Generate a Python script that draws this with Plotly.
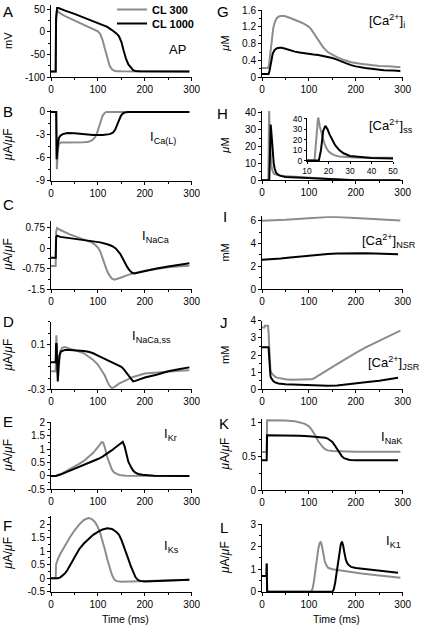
import plotly.graph_objects as go

# ---------------- DATA ----------------
# Panel A: action potential (mV)
ap_t_300 = [0, 10, 10.8, 12, 14, 20, 30, 40, 50, 60, 70, 80, 90, 100, 105, 110, 115, 120, 125, 130, 135, 140, 150, 200, 295]
ap_v_300 = [-88, -88, 20, 44, 46, 41, 35, 30, 26, 21, 16, 11, 6, 1, -5, -18, -38, -60, -75, -83, -86, -87, -87.5, -88, -88]
ap_t_1000 = [0, 10, 10.8, 13, 16, 20, 30, 50, 80, 104, 120, 130, 136, 140, 145, 150, 155, 160, 165, 170, 175, 180, 190, 295]
ap_v_1000 = [-88, -88, 30, 53, 53, 51, 47, 40, 28, 19, 11, 4, 0, -4, -10, -22, -42, -60, -72, -80, -85, -86.5, -87.5, -88]

# Panel B: I_Ca(L)
ica_t_300 = [0, 11.5, 12.5, 13.5, 15, 17, 20, 30, 50, 70, 80, 88, 94, 98, 102, 106, 110, 114, 118, 125, 295]
ica_v_300 = [0, 0, -7.5, -6, -4.8, -4.2, -4.0, -4.0, -4.0, -3.95, -3.9, -3.7, -3.3, -2.8, -2.0, -1.2, -0.5, -0.15, 0, 0, 0]
ica_t_1000 = [0, 11, 12, 13, 15, 17, 20, 25, 35, 50, 70, 90, 110, 125, 132, 137, 141, 145, 149, 153, 158, 165, 295]
ica_v_1000 = [0, 0, -6.2, -5.0, -4.0, -3.4, -3.1, -2.9, -2.75, -2.8, -2.9, -3.0, -3.0, -2.9, -2.7, -2.3, -1.7, -1.0, -0.5, -0.2, -0.05, 0, 0]

# Panel C: I_NaCa
inaca_t_300 = [0, 10, 11, 13, 20, 30, 40, 50, 60, 70, 80, 88, 94, 100, 105, 110, 115, 120, 125, 130, 135, 140, 150, 160, 175, 200, 225, 250, 275, 295]
inaca_v_300 = [-0.65, -0.65, 0.6, 0.73, 0.66, 0.57, 0.5, 0.44, 0.38, 0.33, 0.27, 0.2, 0.12, 0.02, -0.12, -0.35, -0.6, -0.85, -1.0, -1.11, -1.15, -1.13, -1.07, -1.0, -0.92, -0.82, -0.75, -0.7, -0.66, -0.64]
inaca_t_1000 = [0, 10, 11, 13, 20, 35, 50, 70, 90, 105, 120, 130, 138, 143, 148, 153, 158, 163, 168, 173, 178, 185, 200, 225, 250, 275, 295]
inaca_v_1000 = [-0.35, -0.35, 0.4, 0.45, 0.41, 0.37, 0.34, 0.3, 0.25, 0.21, 0.14, 0.08, -0.01, -0.1, -0.22, -0.38, -0.55, -0.7, -0.82, -0.9, -0.92, -0.89, -0.82, -0.74, -0.67, -0.6, -0.55]

# Panel D: I_NaCa,ss
inacass_t_300 = [0, 10, 11.5, 12.5, 13.5, 15, 16.5, 18, 20, 24, 30, 40, 50, 60, 70, 80, 90, 100, 110, 115, 120, 125, 130, 135, 145, 160, 175, 200, 225, 250, 275, 295]
inacass_v_300 = [-0.14, -0.14, 0.18, 0.05, -0.15, -0.2, -0.1, -0.02, 0.04, 0.07, 0.075, 0.06, 0.05, 0.035, 0.02, -0.01, -0.04, -0.08, -0.14, -0.18, -0.23, -0.27, -0.29, -0.28, -0.25, -0.22, -0.19, -0.16, -0.15, -0.14, -0.135, -0.13]
inacass_t_1000 = [0, 10, 10.8, 12, 13, 14.5, 16, 18, 21, 25, 30, 40, 50, 60, 70, 80, 90, 100, 110, 120, 130, 140, 150, 155, 160, 165, 170, 175, 180, 190, 200, 225, 250, 275, 295]
inacass_v_1000 = [-0.06, -0.06, 0.11, 0.1, -0.05, -0.23, -0.1, 0.0, 0.035, 0.045, 0.05, 0.05, 0.048, 0.045, 0.04, 0.033, 0.02, 0.0, -0.02, -0.04, -0.06, -0.08, -0.1, -0.12, -0.15, -0.18, -0.21, -0.23, -0.225, -0.21, -0.195, -0.17, -0.14, -0.12, -0.105]

# Panel E: I_Kr
ikr_t_300 = [0, 10, 20, 30, 40, 50, 60, 70, 80, 90, 100, 105, 108, 111, 115, 120, 125, 130, 135, 140, 145, 150, 160, 295]
ikr_v_300 = [0, 0, 0.06, 0.15, 0.25, 0.35, 0.45, 0.56, 0.7, 0.86, 1.07, 1.19, 1.26, 1.25, 1.05, 0.7, 0.42, 0.23, 0.12, 0.07, 0.04, 0.02, 0.01, 0]
ikr_t_1000 = [0, 10, 20, 30, 40, 50, 60, 70, 80, 90, 100, 110, 120, 130, 140, 145, 150, 153, 157, 161, 165, 170, 175, 180, 186, 195, 207, 220, 295]
ikr_v_1000 = [0, 0, 0.05, 0.12, 0.19, 0.26, 0.32, 0.39, 0.46, 0.54, 0.63, 0.72, 0.83, 0.96, 1.1, 1.18, 1.26, 1.27, 1.1, 0.75, 0.52, 0.35, 0.2, 0.12, 0.07, 0.04, 0.02, 0.01, 0]

# Panel F: I_Ks
iks_t_300 = [0, 10, 10.8, 12, 15, 20, 25, 30, 40, 50, 60, 70, 75, 80, 85, 90, 95, 100, 105, 110, 115, 120, 125, 130, 135, 140, 150, 175, 200, 250, 295]
iks_v_300 = [0, 0, 0.5, 0.6, 0.72, 0.9, 1.06, 1.21, 1.5, 1.76, 1.98, 2.15, 2.2, 2.22, 2.2, 2.14, 2.04, 1.88, 1.66, 1.38, 1.05, 0.7, 0.38, 0.12, -0.05, -0.11, -0.13, -0.12, -0.1, -0.08, -0.06]
iks_t_1000 = [0, 10, 12, 15, 20, 25, 30, 35, 40, 45, 50, 55, 60, 70, 80, 90, 100, 110, 120, 125, 130, 140, 145, 150, 155, 160, 165, 170, 175, 180, 185, 190, 200, 250, 295]
iks_v_1000 = [0, 0, 0.02, 0.0, 0.03, 0.1, 0.18, 0.3, 0.45, 0.62, 0.78, 0.94, 1.07, 1.28, 1.45, 1.6, 1.71, 1.8, 1.84, 1.84, 1.82, 1.7, 1.6, 1.42, 1.2, 0.95, 0.7, 0.45, 0.22, 0.04, -0.06, -0.1, -0.12, -0.09, -0.06]

# Panel G: [Ca2+]i (uM)
cai_t_300 = [0, 13, 15, 17, 19, 21, 24, 27, 31, 35, 40, 45, 50, 60, 70, 80, 90, 100, 105, 110, 115, 120, 125, 130, 140, 150, 160, 175, 190, 210, 230, 250, 270, 295]
cai_v_300 = [0.22, 0.22, 0.3, 0.5, 0.75, 0.95, 1.17, 1.3, 1.4, 1.44, 1.46, 1.46, 1.45, 1.41, 1.37, 1.32, 1.27, 1.2, 1.14, 1.06, 0.97, 0.88, 0.8, 0.72, 0.6, 0.53, 0.48, 0.41, 0.36, 0.32, 0.29, 0.27, 0.26, 0.24]
cai_t_1000 = [0, 14, 16, 18, 20, 23, 27, 32, 38, 42, 50, 60, 70, 80, 90, 100, 110, 120, 130, 140, 150, 160, 170, 180, 190, 200, 220, 240, 260, 280, 295]
cai_v_1000 = [0.08, 0.08, 0.15, 0.3, 0.45, 0.57, 0.65, 0.69, 0.7, 0.7, 0.68, 0.64, 0.61, 0.59, 0.57, 0.55, 0.54, 0.53, 0.51, 0.49, 0.46, 0.42, 0.37, 0.33, 0.29, 0.26, 0.22, 0.19, 0.17, 0.16, 0.15]

# Panel H: [Ca2+]ss (uM)
cass_t_300 = [0, 13.5, 14.5, 15.2, 16, 17, 18, 19, 20, 21.5, 23, 25, 28, 32, 38, 45, 50, 70, 100, 120, 140, 160, 180, 200, 295]
cass_v_300 = [0.1, 0.1, 25, 42, 32, 24, 17, 12, 9, 6.5, 5, 4, 3.5, 3.1, 2.8, 2.5, 2.4, 2.1, 1.7, 1.3, 0.8, 0.4, 0.2, 0.1, 0.1]
cass_t_1000 = [0, 15.5, 16.5, 17.5, 18.5, 19.5, 20.5, 21.5, 23, 25, 27, 30, 35, 40, 50, 70, 100, 120, 140, 160, 180, 200, 295]
cass_v_1000 = [0.05, 0.05, 10, 28, 33, 30, 25, 21, 15, 10, 7, 4.5, 3.2, 2.6, 2.0, 1.7, 1.4, 1.1, 0.7, 0.35, 0.15, 0.05, 0.05]

# Panel I: [Ca2+]NSR (mM)
nsr_t_300 = [0, 25, 50, 75, 100, 125, 140, 160, 180, 200, 225, 250, 275, 295]
nsr_v_300 = [6.0, 6.02, 6.08, 6.16, 6.24, 6.31, 6.33, 6.32, 6.28, 6.23, 6.17, 6.11, 6.06, 6.03]
nsr_t_1000 = [0, 20, 40, 60, 80, 100, 120, 140, 160, 180, 200, 220, 240, 260, 280, 290]
nsr_v_1000 = [2.58, 2.6, 2.68, 2.77, 2.86, 2.94, 3.01, 3.07, 3.12, 3.15, 3.16, 3.15, 3.13, 3.1, 3.07, 3.05]

# Panel J: [Ca2+]JSR (mM)
jsr_t_300 = [0, 5.5, 6, 13, 14, 15, 16, 17, 18, 20, 23, 27, 32, 40, 50, 60, 80, 100, 105, 110, 120, 130, 140, 160, 180, 200, 220, 240, 260, 280, 295]
jsr_v_300 = [3.6, 3.6, 3.7, 3.7, 3.3, 2.5, 1.8, 1.35, 1.1, 0.95, 0.85, 0.75, 0.68, 0.62, 0.58, 0.56, 0.55, 0.56, 0.58, 0.63, 0.78, 0.95, 1.13, 1.47, 1.81, 2.13, 2.43, 2.7, 2.97, 3.23, 3.42]
jsr_t_1000 = [0, 14, 15, 16, 17, 18, 19, 21, 24, 28, 35, 50, 75, 100, 125, 140, 160, 180, 200, 225, 250, 275, 290]
jsr_v_1000 = [2.45, 2.45, 2.0, 1.3, 0.95, 0.78, 0.68, 0.57, 0.48, 0.4, 0.34, 0.3, 0.27, 0.25, 0.22, 0.2, 0.22, 0.27, 0.33, 0.42, 0.5, 0.6, 0.68]

# Panel K: I_NaK
inak_t_300 = [0, 10, 10.8, 15, 30, 50, 70, 80, 90, 95, 100, 105, 110, 115, 120, 125, 130, 135, 140, 150, 175, 200, 250, 295]
inak_v_300 = [0.56, 0.56, 1.03, 1.03, 1.03, 1.025, 1.015, 1.0, 0.98, 0.96, 0.94, 0.9, 0.85, 0.79, 0.72, 0.67, 0.63, 0.6, 0.585, 0.575, 0.565, 0.565, 0.565, 0.565]
inak_t_1000 = [0, 10, 10.8, 20, 50, 80, 100, 120, 135, 140, 145, 150, 155, 160, 165, 170, 175, 180, 185, 190, 200, 250, 290]
inak_v_1000 = [0.44, 0.44, 0.81, 0.81, 0.805, 0.8, 0.795, 0.785, 0.77, 0.76, 0.74, 0.71, 0.66, 0.6, 0.54, 0.5, 0.47, 0.455, 0.447, 0.443, 0.44, 0.44, 0.44]

# Panel L: I_K1
ik1_t_300 = [0, 9.5, 10, 10.5, 11, 105, 108, 111, 114, 117, 120, 123, 125.5, 128, 131, 134, 137, 141, 150, 162, 180, 212, 250, 295]
ik1_v_300 = [0.7, 0.7, 1.25, 0.5, 0, 0, 0.15, 0.5, 1.05, 1.5, 1.9, 2.15, 2.22, 2.0, 1.6, 1.33, 1.18, 1.06, 1.0, 0.96, 0.9, 0.81, 0.72, 0.62]
ik1_t_1000 = [0, 9.5, 10, 10.5, 11, 150, 153, 156, 159, 162, 165, 168, 170.5, 173, 176, 179, 183, 190, 200, 212, 230, 247, 270, 290]
ik1_v_1000 = [0.7, 0.7, 1.25, 0.5, 0, 0, 0.1, 0.4, 0.85, 1.3, 1.75, 2.1, 2.22, 2.05, 1.7, 1.4, 1.22, 1.1, 1.05, 1.02, 0.99, 0.96, 0.9, 0.84]

series_names = ["CL 300", "CL 1000"]

# Tick values / labels
x_tickvals = [0, 100, 200, 300]
x_ticktext = ["0", "100", "200", "300"]
inset_x_tickvals = [10, 20, 30, 40, 50]
inset_x_ticktext = ["10", "20", "30", "40", "50"]
inset_y_tickvals = [0, 10, 20, 30, 40]
inset_y_ticktext = ["0", "10", "20", "30", "40"]

a_ticks = [-100, -50, 0, 50];        a_labels = ["-100", "-50", "0", "50"]
b_ticks = [-9, -6, -3, 0];            b_labels = ["-9", "-6", "-3", "0"]
c_ticks = [-1.5, -0.75, 0, 0.75];     c_labels = ["-1.5", "-0.75", "0", "0.75"]
d_ticks = [-0.3, 0.1];                d_labels = ["-0.3", "0.1"]
e_ticks = [-0.5, 0, 0.5, 1, 1.5, 2];  e_labels = ["-0.5", "0", "0.5", "1", "1.5", "2"]
f_ticks = [-0.5, 0, 0.5, 1, 1.5, 2];  f_labels = ["-0.5", "0", "0.5", "1", "1.5", "2"]
g_ticks = [0, 0.4, 0.8, 1.2, 1.6];    g_labels = ["0", "0.4", "0.8", "1.2", "1.6"]
h_ticks = [0, 10, 20, 30, 40];        h_labels = ["0", "10", "20", "30", "40"]
i_ticks = [0, 2, 4, 6];               i_labels = ["0", "2", "4", "6"]
j_ticks = [0, 1, 2, 3, 4];            j_labels = ["0", "1", "2", "3", "4"]
k_ticks = [0, 0.5, 1];                k_labels = ["0", "0.5", "1"]
l_ticks = [0, 1, 2, 3];               l_labels = ["0", "1", "2", "3"]

# ---------------- LAYOUT / STYLE ----------------
W, H = 427, 627
FONT = "Liberation Sans, Arial, Helvetica, sans-serif"
GRAY = "#8c8c8c"
BLACK = "#000000"
LW = 2


def px_x(p):
    return p / W


def px_y(p):
    return 1 - p / H


LEFT = (51, 191.7)
RIGHT = (262, 402.7)
UA = "<i>μ</i>A/<i>μ</i>F"

# (letter, column, top px, bottom px, y range, ticks, labels, minor dtick, unit, label text, label x px, label y px, data)
panels = [
    ("A", LEFT, 4.8, 77.0, [-100, 60], a_ticks, a_labels, 25, "mV", "AP", 167, 49,
     (ap_t_300, ap_v_300, ap_t_1000, ap_v_1000)),
    ("B", LEFT, 109.7, 180.7, [-9, 0.3], b_ticks, b_labels, 1.5, UA, "I<sub>Ca(L)</sub>", 148, 137,
     (ica_t_300, ica_v_300, ica_t_1000, ica_v_1000)),
    ("C", LEFT, 220.7, 289.3, [-1.5, 1.0], c_ticks, c_labels, 0.375, UA, "I<sub>NaCa</sub>", 140, 236,
     (inaca_t_300, inaca_v_300, inaca_t_1000, inaca_v_1000)),
    ("D", LEFT, 321.8, 389.3, [-0.3, 0.3], d_ticks, d_labels, 0.1, UA, "I<sub>NaCa,ss</sub>", 130, 336,
     (inacass_t_300, inacass_v_300, inacass_t_1000, inacass_v_1000)),
    ("E", LEFT, 422.3, 489.3, [-0.5, 2.0], e_ticks, e_labels, 0.25, UA, "I<sub>Kr</sub>", 162, 434,
     (ikr_t_300, ikr_v_300, ikr_t_1000, ikr_v_1000)),
    ("F", LEFT, 515.9, 591.7, [-0.5, 2.3], f_ticks, f_labels, 0.25, UA, "I<sub>Ks</sub>", 162, 546,
     (iks_t_300, iks_v_300, iks_t_1000, iks_v_1000)),
    ("G", RIGHT, 10.0, 77.3, [0, 1.6], g_ticks, g_labels, 0.2, "<i>μ</i>M", "[Ca<sup>2+</sup>]<sub>i</sub>", 367, 21,
     (cai_t_300, cai_v_300, cai_t_1000, cai_v_1000)),
    ("H", RIGHT, 111.0, 180.3, [0, 41], h_ticks, h_labels, 5, "<i>μ</i>M", "[Ca<sup>2+</sup>]<sub>ss</sub>", 367, 126,
     (cass_t_300, cass_v_300, cass_t_1000, cass_v_1000)),
    ("I", RIGHT, 216.2, 289.0, [0, 6.4], i_ticks, i_labels, 1, "mM", "[Ca<sup>2+</sup>]<sub>NSR</sub>", 360, 241,
     (nsr_t_300, nsr_v_300, nsr_t_1000, nsr_v_1000)),
    ("J", RIGHT, 320.7, 389.3, [0, 4], j_ticks, j_labels, 0.5, "mM", "[Ca<sup>2+</sup>]<sub>JSR</sub>", 366, 363,
     (jsr_t_300, jsr_v_300, jsr_t_1000, jsr_v_1000)),
    ("K", RIGHT, 418.9, 490.0, [0, 1.05], k_ticks, k_labels, 0.25, UA, "I<sub>NaK</sub>", 379, 437,
     (inak_t_300, inak_v_300, inak_t_1000, inak_v_1000)),
    ("L", RIGHT, 524.0, 592.2, [-0.02, 3], l_ticks, l_labels, 0.5, UA, "I<sub>K1</sub>", 384, 541,
     (ik1_t_300, ik1_v_300, ik1_t_1000, ik1_v_1000)),
]

letter_pos = {"A": (1, 11), "B": (1, 112), "C": (1, 205), "D": (1, 321), "E": (1, 421), "F": (1, 525),
              "G": (215, 12), "H": (215, 113), "I": (221, 216), "J": (218, 322), "K": (217, 423), "L": (218, 527)}

legend_style = dict(xanchor="left", yanchor="top", bgcolor="rgba(0,0,0,0)", borderwidth=0,
                    font=dict(size=11, family=FONT, weight="bold", color="black"),
                    tracegroupgap=0, itemwidth=30)

fig = go.Figure()
layout = dict(
    template="none",
    width=W, height=H, margin=dict(l=0, r=0, t=0, b=0, autoexpand=False),
    paper_bgcolor="white", plot_bgcolor="white",
    font=dict(family=FONT, size=10, color="black"),
    showlegend=True,
    legend=dict(legend_style, x=px_x(112), y=px_y(-5)),
    legend2=dict(legend_style, x=px_x(112), y=px_y(9)),
)
annotations = []

axis_common = dict(showline=True, linecolor="black", linewidth=1, showgrid=False, zeroline=False,
                   automargin=False, mirror=False,
                   ticks="outside", ticklen=3, tickwidth=1, tickcolor="black",
                   tickfont=dict(size=10, family=FONT, color="black"), fixedrange=True)

for i, (letter, col, top, bot, yr, tv, tt, mdt, unit, label, lx, ly, data) in enumerate(panels):
    n = i + 1
    xs = "x" if n == 1 else f"x{n}"
    ys = "y" if n == 1 else f"y{n}"
    t3, v3, t10, v10 = data
    fig.add_trace(go.Scatter(x=t3, y=v3, mode="lines", line=dict(color=GRAY, width=LW),
                             name=series_names[0], showlegend=(n == 1), legend="legend",
                             xaxis=xs, yaxis=ys))
    fig.add_trace(go.Scatter(x=t10, y=v10, mode="lines", line=dict(color=BLACK, width=LW),
                             name=series_names[1], showlegend=(n == 1), legend="legend2",
                             xaxis=xs, yaxis=ys))
    xa = dict(axis_common, domain=[px_x(col[0]), px_x(col[1])], range=[0, 300], anchor=ys,
              tickvals=x_tickvals, ticktext=x_ticktext,
              minor=dict(dtick=50, tick0=0, ticklen=2, ticks="outside", tickcolor="black", showgrid=False))
    ya = dict(axis_common, domain=[px_y(bot), px_y(top)], range=yr, anchor=xs,
              tickvals=tv, ticktext=tt,
              minor=dict(dtick=mdt, tick0=0, ticklen=2, ticks="outside", tickcolor="black", showgrid=False))
    layout["xaxis" if n == 1 else f"xaxis{n}"] = xa
    layout["yaxis" if n == 1 else f"yaxis{n}"] = ya

    # panel letter
    lxp, lyp = letter_pos[letter]
    annotations.append(dict(text=letter, x=px_x(lxp), y=px_y(lyp), xref="paper", yref="paper",
                            xanchor="left", yanchor="middle", showarrow=False,
                            font=dict(size=15, family=FONT, color="black")))
    # y unit title
    ux = 8 if col is LEFT else 225
    annotations.append(dict(text=unit, x=px_x(ux), y=px_y((top + bot) / 2), xref="paper", yref="paper",
                            xanchor="center", yanchor="middle", textangle=-90, showarrow=False,
                            font=dict(size=12 if unit == UA else 11, family=FONT, color="black")))
    # quantity label
    annotations.append(dict(text=label, x=px_x(lx), y=px_y(ly), xref="paper", yref="paper",
                            xanchor="left", yanchor="middle", showarrow=False,
                            font=dict(size=13, family=FONT, color="black")))

# inset for panel H
n = len(panels) + 1
fig.add_trace(go.Scatter(x=cass_t_300, y=cass_v_300, mode="lines", line=dict(color=GRAY, width=LW),
                         showlegend=False, xaxis=f"x{n}", yaxis=f"y{n}"))
fig.add_trace(go.Scatter(x=cass_t_1000, y=cass_v_1000, mode="lines", line=dict(color=BLACK, width=LW),
                         showlegend=False, xaxis=f"x{n}", yaxis=f"y{n}"))
inset_font = dict(size=8.5, family=FONT, color="black")
layout[f"xaxis{n}"] = dict(axis_common, domain=[px_x(307), px_x(393)], range=[10, 50], anchor=f"y{n}",
                           tickvals=inset_x_tickvals, ticktext=inset_x_ticktext, tickfont=inset_font, ticklen=2)
layout[f"yaxis{n}"] = dict(axis_common, domain=[px_y(161.2), px_y(117.5)], range=[-0.5, 41], anchor=f"x{n}",
                           tickvals=inset_y_tickvals, ticktext=inset_y_ticktext, tickfont=inset_font, ticklen=2)

# time axis titles
for cx in (125, 336):
    annotations.append(dict(text="Time (ms)", x=px_x(cx), y=px_y(619), xref="paper", yref="paper",
                            xanchor="center", yanchor="middle", showarrow=False,
                            font=dict(size=10.5, family=FONT, color="black")))

layout["annotations"] = annotations
fig.update_layout(**layout)
fig.write_html("out.html",
               config={"displayModeBar": False, "staticPlot": True},
               post_script="document.body.style.margin='0';document.body.style.padding='0';"
                           "document.documentElement.style.overflow='hidden';")
